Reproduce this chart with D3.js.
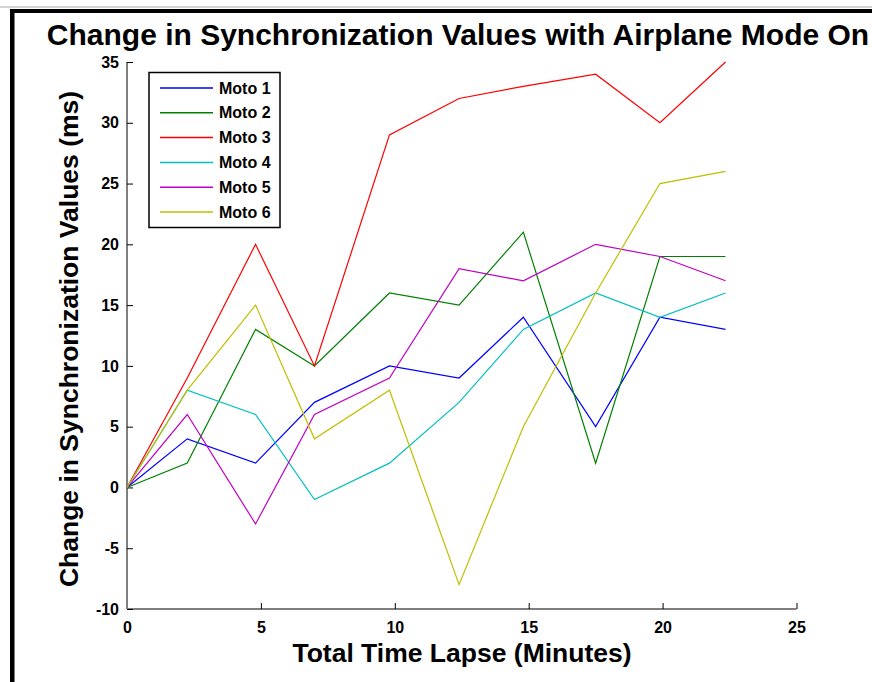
<!DOCTYPE html>
<html>
<head>
<meta charset="utf-8">
<script src="https://cdn.jsdelivr.net/npm/d3@7"></script>
<style>
  body { margin: 0; background: #fff; }
  svg text { font-family: "Liberation Sans", Arial, sans-serif; font-weight: bold; fill: #000; }
</style>
</head>
<body>
<svg id="chart"></svg>
<script>
// time of each measurement (minutes)
var times = [0, 2.25, 4.8, 7.0, 9.8, 12.4, 14.8, 17.5, 19.9, 22.35];

var moto1 = [0, 4, 2, 7, 10, 9, 14, 5, 14, 13];
var moto2 = [0, 2, 13, 10, 16, 15, 21, 2, 19, 19];
var moto3 = [0, 9, 20, 10, 29, 32, 33, 34, 30, 35];
var moto4 = [0, 8, 6, -1, 2, 7, 13, 16, 14, 16];
var moto5 = [0, 6, -3, 6, 9, 18, 17, 20, 19, 17];
var moto6 = [0, 8, 15, 4, 8, -8, 5, 16, 25, 26];

var names = ["Moto 1", "Moto 2", "Moto 3", "Moto 4", "Moto 5", "Moto 6"];
var colors = ["#0000ff", "#008000", "#ff0000", "#00bfbf", "#bf00bf", "#bfbf00"];

var xTicks = [0, 5, 10, 15, 20, 25];
var yTicks = [-10, -5, 0, 5, 10, 15, 20, 25, 30, 35];

var width = 872,
    height = 682;

var svg = d3.select("#chart")
    .attr("width", width)
    .attr("height", height);

// figure frame (top + left edge)
svg.append("line").attr("x1", 0).attr("x2", width).attr("y1", 7).attr("y2", 7)
    .attr("stroke", "#d4d4d4").attr("stroke-width", 2);
svg.append("rect").attr("x", 10).attr("y", 9).attr("width", width - 10).attr("height", 4).attr("fill", "#000");
svg.append("rect").attr("x", 10).attr("y", 9).attr("width", 4.5).attr("height", height - 9).attr("fill", "#000");

var x = d3.scaleLinear().domain([0, 25]).range([127, 796.5]);
var y = d3.scaleLinear().domain([-10, 35]).range([609, 62]);

var series = [moto1, moto2, moto3, moto4, moto5, moto6].map(function(vals, i) {
    return { name: names[i], color: colors[i], values: vals.map(function(v, j) { return [times[j], v]; }) };
});

// plain hyphen for negatives, like the original
var fmt = function(d) { return String(d); };

// axes
var xAxis = svg.append("g")
    .attr("transform", "translate(0," + y(-10) + ")")
    .call(d3.axisBottom(x).tickValues(xTicks).tickSize(-6).tickPadding(14).tickFormat(fmt));
xAxis.select(".domain").attr("stroke", "#000").attr("stroke-width", 1.2).attr("d", "M" + x(0) + ",0H" + x(25));
xAxis.selectAll(".tick line").attr("stroke", "#000");
xAxis.selectAll(".tick text").style("font-size", "16px").attr("dy", "0.71em").attr("y", 13);

var yAxis = svg.append("g")
    .attr("transform", "translate(" + x(0) + ",0)")
    .call(d3.axisLeft(y).tickValues(yTicks).tickSize(-6).tickPadding(8).tickFormat(fmt));
yAxis.select(".domain").attr("stroke", "#808080").attr("stroke-width", 2).attr("d", "M0," + y(-10) + "V" + y(35));
yAxis.selectAll(".tick line").attr("stroke", "#000");
yAxis.selectAll(".tick text").style("font-size", "16px");

// lines
var line = d3.line()
    .x(function(d) { return x(d[0]); })
    .y(function(d) { return y(d[1]); });

svg.append("g").selectAll("path")
    .data(series)
    .enter()
    .append("path")
    .attr("d", function(d) { return line(d.values); })
    .attr("fill", "none")
    .attr("stroke", function(d) { return d.color; })
    .attr("stroke-width", 1.2);

// title & labels
svg.append("text")
    .attr("x", 458).attr("y", 45)
    .attr("text-anchor", "middle")
    .style("font-size", "30px")
    .text("Change in Synchronization Values with Airplane Mode On");

svg.append("text")
    .attr("x", 462).attr("y", 662)
    .attr("text-anchor", "middle")
    .style("font-size", "26.5px")
    .text("Total Time Lapse (Minutes)");

svg.append("text")
    .attr("transform", "translate(78,339) rotate(-90)")
    .attr("text-anchor", "middle")
    .style("font-size", "26.5px")
    .text("Change in Synchronization Values (ms)");

// legend
var legend = svg.append("g");
legend.append("rect")
    .attr("x", 149).attr("y", 72.5)
    .attr("width", 131).attr("height", 155)
    .attr("fill", "#fff").attr("stroke", "#000").attr("stroke-width", 1.5);

var item = legend.selectAll(".item")
    .data(series)
    .enter()
    .append("g")
    .attr("transform", function(d, i) { return "translate(0," + (88 + i * 24.8) + ")"; });
item.append("line")
    .attr("x1", 160).attr("x2", 213)
    .attr("stroke", function(d) { return d.color; })
    .attr("stroke-width", 1.5);
item.append("text")
    .attr("x", 219).attr("y", 0).attr("dy", "0.35em")
    .style("font-size", "16px")
    .text(function(d) { return d.name; });
</script>
</body>
</html>
